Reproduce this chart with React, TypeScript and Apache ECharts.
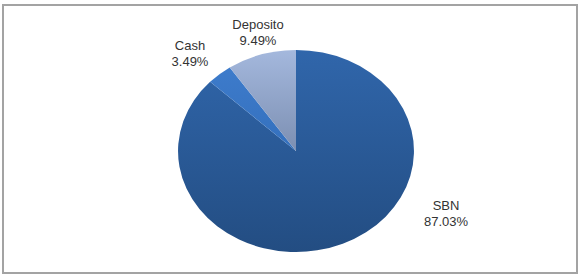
import React, { useEffect, useRef } from "react";
import * as echarts from "echarts";

const categories = ["SBN", "Cash", "Deposito"];
const values = [87.03, 3.49, 9.49];

const CX = 296;
const CY = 151;
const RX = 118;
const RY = 101;

const sliceFills = [
  { top: "#3066AB", bottom: "#234D82" },
  { top: "#3D7BCB", bottom: "#3470BD" },
  { top: "#A4B8DD", bottom: "#7C8FB2" },
];

// label centre positions (Excel "best fit")
const labelPos = [
  [446, 213],
  [190, 53],
  [258, 32],
];

export default function App() {
  const ref = useRef<HTMLDivElement>(null);
  useEffect(() => {
    if (!ref.current) return;
    const chart = echarts.init(ref.current, undefined, { renderer: "svg" });
    const total = values.reduce((a, b) => a + b, 0);
    const textStyle = {
      fontFamily: "Liberation Sans",
      fontSize: 13,
      lineHeight: 15,
      fill: "#333333",
      align: "center",
      verticalAlign: "middle",
    };
    chart.setOption({
      animation: false,
      backgroundColor: "#ffffff",
      graphic: [
        {
          type: "rect",
          shape: { x: 3, y: 5, width: 574, height: 268 },
          style: { fill: "none", stroke: "#A3A3A3", lineWidth: 2 },
          z: 0,
        },
      ],
      series: [
        {
          type: "custom",
          coordinateSystem: "none",
          data: values.map((v, i) => ({ name: categories[i], value: v })),
          renderItem: (params: any) => {
            const i = params.dataIndex;
            let cum = 0;
            for (let k = 0; k < i; k++) cum += values[k];
            const start = -Math.PI / 2 + (cum / total) * Math.PI * 2;
            const end = -Math.PI / 2 + ((cum + values[i]) / total) * Math.PI * 2;
            const f = sliceFills[i];
            return {
              type: "group",
              children: [
                {
                  type: "sector",
                  x: CX,
                  y: CY,
                  scaleX: RX / RY,
                  shape: { cx: 0, cy: 0, r0: 0, r: RY, startAngle: start, endAngle: end, clockwise: true },
                  style: {
                    fill: new echarts.graphic.LinearGradient(0, 0, 0, 1, [
                      { offset: 0, color: f.top },
                      { offset: 1, color: f.bottom },
                    ]),
                    stroke: "none",
                  },
                },
                {
                  type: "text",
                  x: labelPos[i][0],
                  y: labelPos[i][1] - 8,
                  style: { ...textStyle, text: categories[i] },
                },
                {
                  type: "text",
                  x: labelPos[i][0],
                  y: labelPos[i][1] + 8,
                  style: { ...textStyle, text: values[i].toFixed(2) + "%" },
                },
              ],
            };
          },
        },
      ],
    });
    return () => chart.dispose();
  }, []);
  return (
    <div
      ref={ref}
      style={{ position: "fixed", left: 0, top: 0, width: 579, height: 275 }}
    />
  );
}
